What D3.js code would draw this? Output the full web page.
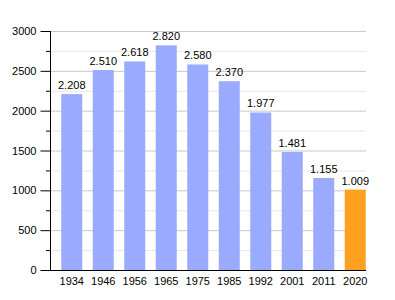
<!DOCTYPE html>
<html><head><meta charset="utf-8">
<script src="https://cdn.jsdelivr.net/npm/d3@7"></script>
<style>body{margin:0;background:#fff}svg{display:block}text{font-family:"Liberation Sans",Arial,sans-serif}</style>
</head><body>
<svg id="c" width="395" height="300"></svg>
<script>
const years = ["1934","1946","1956","1965","1975","1985","1992","2001","2011","2020"];
const population = [2208,2510,2618,2820,2580,2370,1977,1481,1155,1009];
const valueLabels = ["2.208","2.510","2.618","2.820","2.580","2.370","1.977","1.481","1.155","1.009"];
const yTicks = [0,500,1000,1500,2000,2500,3000];
const yMinor = [250,750,1250,1750,2250,2750];

const svg = d3.select("#c");
const x = d3.scaleBand().domain(years).range([56,371]).paddingInner(0.333).paddingOuter(0.1667);
const y = d3.scaleLinear().domain([0,3000]).range([270,31]);
const left = 50, right = 366;

// minor grid
svg.append("g").selectAll("line").data(yMinor).join("line")
  .attr("x1",left).attr("x2",right).attr("y1",d=>y(d)+0.5).attr("y2",d=>y(d)+0.5)
  .attr("stroke","#e8e8e8");
svg.append("g").selectAll("line").data(yTicks.filter(d=>d>0)).join("line")
  .attr("x1",left).attr("x2",right).attr("y1",d=>y(d)+0.5).attr("y2",d=>y(d)+0.5)
  .attr("stroke","#c8c8c8");

// bars
svg.append("g").selectAll("rect").data(population).join("rect")
  .attr("x",(d,i)=>x(years[i])).attr("width",x.bandwidth())
  .attr("y",d=>y(d)).attr("height",d=>y(0)-y(d))
  .attr("fill",(d,i)=>i===years.length-1?"#ffa020":"#99aaff");

// value labels
svg.append("g").selectAll("text").data(population).join("text")
  .attr("x",(d,i)=>x(years[i])+x.bandwidth()/2).attr("y",d=>y(d)-5)
  .attr("text-anchor","middle").attr("font-size",11).attr("fill","#000")
  .text((d,i)=>valueLabels[i]);

// y axis
const ya = d3.axisLeft(y).tickValues(yTicks).tickSize(10).tickPadding(4).tickFormat(d3.format("d"));
const yg = svg.append("g").attr("transform",`translate(${left+0.5},0)`).call(ya);
yg.select(".domain").remove();
yg.selectAll("text").attr("font-size",11).attr("font-family","Liberation Sans, Arial, sans-serif");
yg.selectAll(".tick line").attr("stroke","#000");
svg.append("g").selectAll("line").data(yMinor).join("line")
  .attr("x1",left-4).attr("x2",left).attr("y1",d=>y(d)+0.5).attr("y2",d=>y(d)+0.5).attr("stroke","#000");
svg.append("line").attr("x1",left+0.5).attr("x2",left+0.5).attr("y1",y(3000)).attr("y2",y(0)+1).attr("stroke","#000");

// x axis
const xa = d3.axisBottom(x).tickSize(0).tickPadding(7);
const xg = svg.append("g").attr("transform",`translate(0,${y(0)})`).call(xa);
xg.select(".domain").remove();
xg.selectAll("text").attr("font-size",11).attr("font-family","Liberation Sans, Arial, sans-serif");
svg.append("line").attr("x1",left).attr("x2",right).attr("y1",y(0)+0.5).attr("y2",y(0)+0.5).attr("stroke","#000");
</script>
</body></html>
